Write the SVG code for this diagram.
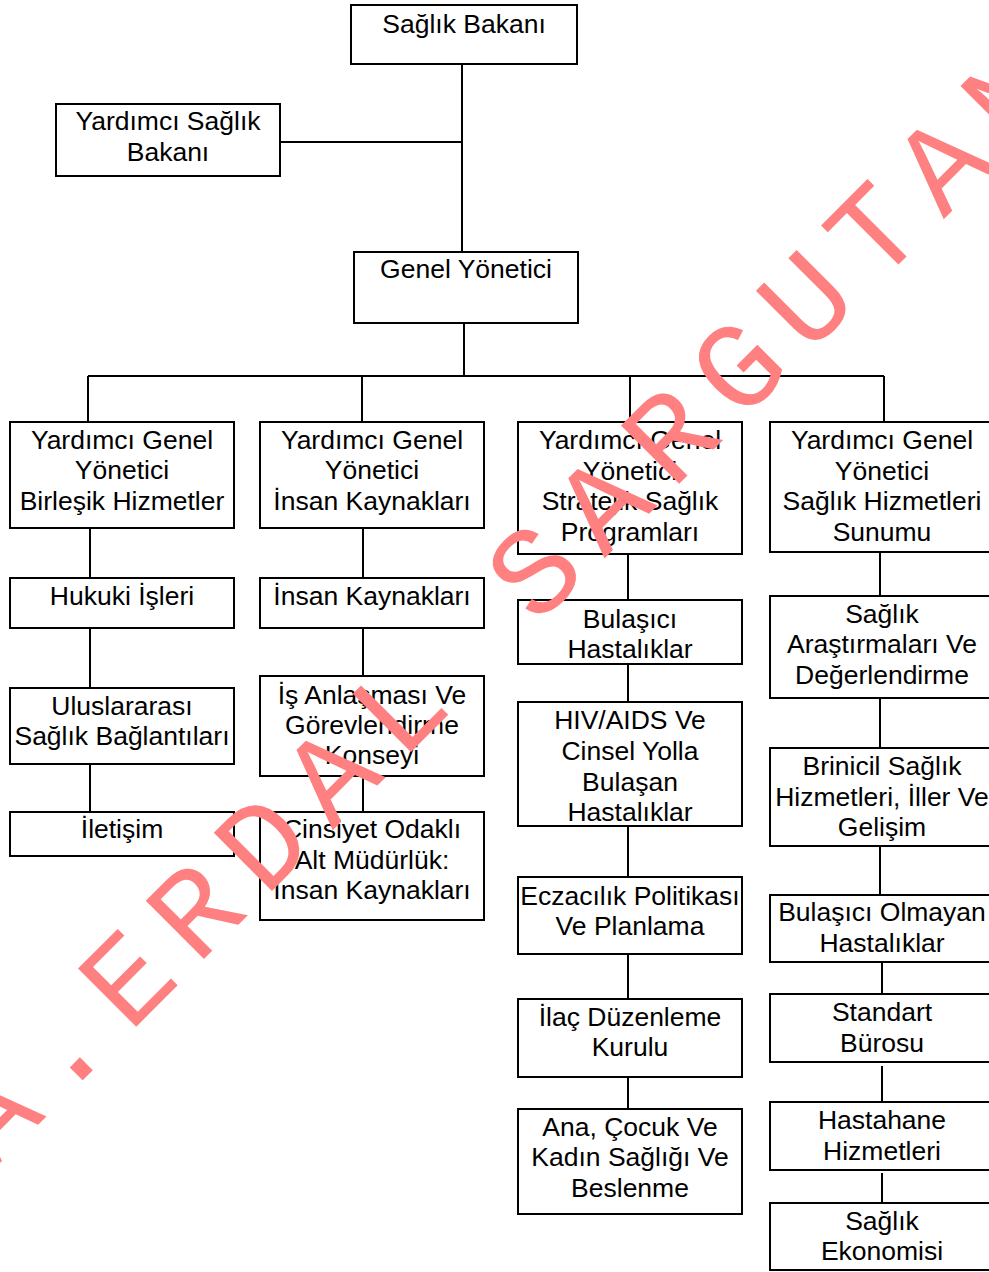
<svg xmlns="http://www.w3.org/2000/svg" width="989" height="1272" viewBox="0 0 989 1272">
<style>
.box rect{fill:#fff;stroke:#000;stroke-width:2}
.box text{font-family:"Liberation Sans",Arial,sans-serif;font-size:26.5px;fill:#000;text-anchor:middle}
#connectors path{fill:none;stroke:#000;stroke-width:2}
.wm{font-family:"Liberation Mono","Courier New",monospace;font-size:125px;letter-spacing:21px;fill:#ff8080}
</style>
<rect width="989" height="1272" fill="#fff"/>
<g id="connectors">
<path d="M462,64V252M280,142H462M464,323V376M88,376H884M88,376V422M362,376V422M630,376V422M884,376V422"/>
<path d="M90,528V578M90,628V688M90,764V812"/>
<path d="M363,528V578M363,628V676M363,776V812"/>
<path d="M628,554V600M628,664V702M628,826V877M628,954V999M628,1077V1109"/>
<path d="M880,552V596M880,698V748M880,846V895M882,962V994M882,1066V1102M882,1173V1203"/>
</g>
<g id="n-saglik-bakani" class="box"><rect x="351" y="5" width="226" height="59"/><text x="464" y="33">Sağlık Bakanı</text></g>
<g id="n-yardimci-bakan" class="box"><rect x="56" y="104" width="224" height="72"/><text x="168" y="130">Yardımcı Sağlık</text><text x="168" y="161">Bakanı</text></g>
<g id="n-genel-yonetici" class="box"><rect x="354" y="252" width="224" height="71"/><text x="466" y="278">Genel Yönetici</text></g>

<g id="a1" class="box"><rect x="10" y="422" width="224" height="106"/><text x="122" y="449">Yardımcı Genel</text><text x="122" y="479">Yönetici</text><text x="122" y="509.5">Birleşik Hizmetler</text></g>
<g id="a2" class="box"><rect x="10" y="578" width="224" height="50"/><text x="122" y="604.5">Hukuki İşleri</text></g>
<g id="a3" class="box"><rect x="10" y="688" width="224" height="76"/><text x="122" y="715">Uluslararası</text><text x="122" y="745">Sağlık Bağlantıları</text></g>
<g id="a4" class="box"><rect x="10" y="812" width="224" height="44"/><text x="122" y="838">İletişim</text></g>

<g id="b1" class="box"><rect x="260" y="422" width="224" height="106"/><text x="372" y="449">Yardımcı Genel</text><text x="372" y="479">Yönetici</text><text x="372" y="509.5">İnsan Kaynakları</text></g>
<g id="b2" class="box"><rect x="260" y="578" width="224" height="50"/><text x="372" y="604.5">İnsan Kaynakları</text></g>
<g id="b3" class="box"><rect x="260" y="676" width="224" height="100"/><text x="372" y="704">İş Anlaşması Ve</text><text x="372" y="734">Görevlendirme</text><text x="372" y="764">Konseyi</text></g>
<g id="b4" class="box"><rect x="260" y="812" width="224" height="108"/><text x="372" y="838">Cinsiyet Odaklı</text><text x="372" y="869">Alt Müdürlük:</text><text x="372" y="898.5">İnsan Kaynakları</text></g>

<g id="c1" class="box"><rect x="518" y="422" width="224" height="132"/><text x="630" y="448.5">Yardımcı Genel</text><text x="630" y="479.5">Yönetici</text><text x="630" y="509.5">Stratejik Sağlık</text><text x="630" y="540.5">Programları</text></g>
<g id="c2" class="box"><rect x="518" y="600" width="224" height="64"/><text x="630" y="627.5">Bulaşıcı</text><text x="630" y="657.5">Hastalıklar</text></g>
<g id="c3" class="box"><rect x="518" y="702" width="224" height="124"/><text x="630" y="728.5">HIV/AIDS Ve</text><text x="630" y="759.5">Cinsel Yolla</text><text x="630" y="790.5">Bulaşan</text><text x="630" y="820.5">Hastalıklar</text></g>
<g id="c4" class="box"><rect x="518" y="877" width="224" height="77"/><text x="630" y="904.5">Eczacılık Politikası</text><text x="630" y="934.5">Ve Planlama</text></g>
<g id="c5" class="box"><rect x="518" y="999" width="224" height="78"/><text x="630" y="1026">İlaç Düzenleme</text><text x="630" y="1056">Kurulu</text></g>
<g id="c6" class="box"><rect x="518" y="1109" width="224" height="105"/><text x="630" y="1136">Ana, Çocuk Ve</text><text x="630" y="1166">Kadın Sağlığı Ve</text><text x="630" y="1196.5">Beslenme</text></g>

<g id="d1" class="box"><rect x="770" y="422" width="224" height="130"/><text x="882" y="448.5">Yardımcı Genel</text><text x="882" y="479.5">Yönetici</text><text x="882" y="509.5">Sağlık Hizmetleri</text><text x="882" y="540.5">Sunumu</text></g>
<g id="d2" class="box"><rect x="770" y="596" width="224" height="102"/><text x="882" y="622.5">Sağlık</text><text x="882" y="652.5">Araştırmaları Ve</text><text x="882" y="683.5">Değerlendirme</text></g>
<g id="d3" class="box"><rect x="770" y="748" width="224" height="98"/><text x="882" y="774.5">Brinicil Sağlık</text><text x="882" y="805.5">Hizmetleri, İller Ve</text><text x="882" y="835.5">Gelişim</text></g>
<g id="d4" class="box"><rect x="770" y="895" width="224" height="67"/><text x="882" y="921">Bulaşıcı Olmayan</text><text x="882" y="951.5">Hastalıklar</text></g>
<g id="d5" class="box"><rect x="770" y="994" width="224" height="68"/><text x="882" y="1021">Standart</text><text x="882" y="1052">Bürosu</text></g>
<g id="d6" class="box"><rect x="770" y="1102" width="224" height="68"/><text x="882" y="1128.5">Hastahane</text><text x="882" y="1159.5">Hizmetleri</text></g>
<g id="d7" class="box"><rect x="770" y="1203" width="224" height="67"/><text x="882" y="1229.5">Sağlık</text><text x="882" y="1259.5">Ekonomisi</text></g>

<g id="watermark"><text class="wm" transform="translate(-6.6,1169.6) rotate(-45)">A.ERDAL SARGUTAN</text></g>
</svg>
